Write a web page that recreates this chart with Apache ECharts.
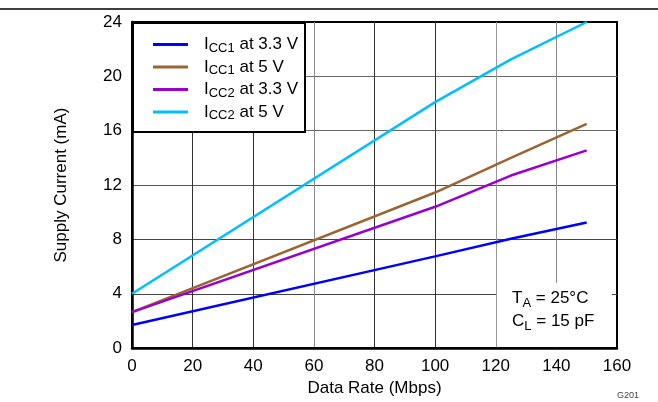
<!DOCTYPE html>
<html><head><meta charset="utf-8">
<script src="https://cdn.jsdelivr.net/npm/echarts@6/dist/echarts.min.js"></script>
<style>html,body{margin:0;padding:0;background:#fff}#c{width:658px;height:402px}</style>
</head><body><div id="c"></div>
<script>
const dataRate = [0, 100, 125, 150];
const seriesNames = ['ICC1 at 3.3 V', 'ICC1 at 5 V', 'ICC2 at 3.3 V', 'ICC2 at 5 V'];
const icc1_33 = [1.7, 6.75, 8.05, 9.25];
const icc1_5 = [2.65, 11.45, 14.0, 16.5];
const icc2_33 = [2.65, 10.4, 12.7, 14.55];
const icc2_5 = [4.0, 18.1, 21.25, 24.0];
const colors = ['#0000FF', '#996633', '#9900CC', '#00BFFF'];
const xTicks = [0, 160, 20];
const yTicks = [0, 24, 4];

const FONT = '"Liberation Sans", Arial, sans-serif';
const allData = [icc1_33, icc1_5, icc2_33, icc2_5];
const chart = echarts.init(document.getElementById('c'), null, {renderer: 'canvas'});
const series = allData.map((vals, i) => ({
  name: seriesNames[i], type: 'line', showSymbol: false, symbol: 'none',
  data: dataRate.map((x, j) => [x, vals[j]]),
  lineStyle: {color: colors[i], width: 2.5}, itemStyle: {color: colors[i]},
  z: 3
}));
chart.setOption({
  animation: false,
  textStyle: {fontFamily: FONT},
  grid: {left: 132, right: 41, top: 22, bottom: 51, show: true, borderColor: '#000', borderWidth: 2, backgroundColor: '#fff'},
  xAxis: {
    type: 'value', min: xTicks[0], max: xTicks[1], interval: xTicks[2],
    name: 'Data Rate (Mbps)', nameLocation: 'middle', nameGap: 27,
    nameTextStyle: {fontFamily: FONT, fontSize: 17, color: '#000'},
    axisLine: {show: true, lineStyle: {color: '#000', width: 2.5}},
    axisTick: {show: false},
    axisLabel: {fontFamily: FONT, fontSize: 17, color: '#000', margin: 10},
    splitLine: {show: true, lineStyle: {width: 1, color: ['#000', '#333', '#333', '#888', '#333', '#333', '#999', '#888', '#000']}}
  },
  yAxis: {
    type: 'value', min: yTicks[0], max: yTicks[1], interval: yTicks[2],
    name: 'Supply Current (mA)', nameLocation: 'middle', nameGap: 62,
    nameTextStyle: {fontFamily: FONT, fontSize: 17, color: '#000'},
    axisLine: {show: true, lineStyle: {color: '#000', width: 2.5}},
    axisTick: {show: false},
    axisLabel: {fontFamily: FONT, fontSize: 17, color: '#000', margin: 10},
    splitLine: {show: true, lineStyle: {width: 1, color: ['#000', '#444', '#444', '#555', '#666', '#666', '#000']}}
  },
  legend: {
    show: true, orient: 'vertical', left: 148, top: 31, z: 20,
    itemWidth: 35, itemHeight: 3, itemGap: 4, icon: 'rect',
    data: seriesNames,
    formatter: name => name.replace(/^I(CC\d)(.*)$/, '{m|I}{s|$1}{m|$2}'),
    textStyle: {
      fontFamily: FONT, color: '#000', padding: [0, 0, 0, 11],
      rich: {
        m: {fontFamily: FONT, fontSize: 17, lineHeight: 20, color: '#000'},
        s: {fontFamily: FONT, fontSize: 13, lineHeight: 14, verticalAlign: 'bottom', color: '#000'}
      }
    }
  },
  graphic: [
    {type: 'line', z: 30, shape: {x1: 0, y1: 9, x2: 658, y2: 9}, style: {stroke: '#000', lineWidth: 1.5}},
    {type: 'rect', z: 15, shape: {x: 133, y: 23, width: 172, height: 109}, style: {fill: '#fff', stroke: '#000', lineWidth: 2}},
    {type: 'rect', z: 15, shape: {x: 497, y: 283, width: 115, height: 64}, style: {fill: '#fff', stroke: null}},
    {type: 'text', z: 16, left: 512, top: 290, style: {
      text: '{m|T}{s|A}{m| = 25°C}\n{m|C}{s|L}{m| = 15 pF}',
      rich: {
        m: {fontFamily: FONT, fontSize: 17, lineHeight: 23, fill: '#000'},
        s: {fontFamily: FONT, fontSize: 13, lineHeight: 15, verticalAlign: 'bottom', fill: '#000'}
      }
    }},
    {type: 'text', z: 16, left: 617, top: 391, style: {text: 'G201', fontFamily: FONT, fontSize: 9, fill: '#444'}}
  ],
  series: series
});
</script></body></html>
